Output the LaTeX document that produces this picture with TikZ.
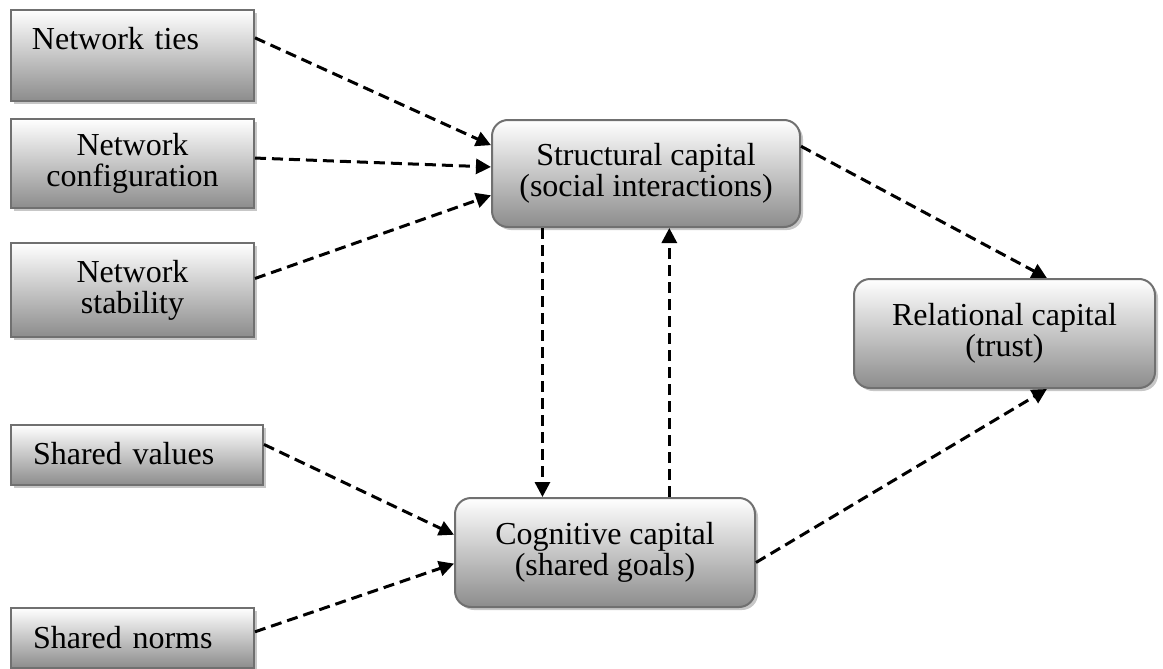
\documentclass[tikz,border=0pt]{standalone}
\usepackage{fontspec}
\setmainfont{Liberation Serif}
\usetikzlibrary{arrows.meta,calc,shadows}

\tikzset{
  boxbase/.style={draw=black!56, line width=1pt,
    top color=white, bottom color=black!45,
    drop shadow={shadow xshift=1.5pt, shadow yshift=-1.5pt, fill=black!22, opacity=1},
    font=\fontsize{16pt}{15.5pt}\selectfont, inner sep=0pt, align=center},
  sqbox/.style={boxbase},
  rndbox/.style={boxbase, rounded corners=8pt},
  flow/.style={line width=1.5pt, dash pattern=on 5.5pt off 3pt,
    -{Triangle[length=7.5pt,width=7.5pt]}}
}

\begin{document}
\begin{tikzpicture}[x=0.5pt, y=-0.5pt]
  \useasboundingbox (0,0) rectangle (1163,669);

  % left-hand input boxes
  \node[sqbox, align=left, inner xsep=10.5pt, text width=100.5pt,
        text height=19.5pt, text depth=26pt] (ties) at (132.5,55.5) {Network ties};
  \node[sqbox, minimum width=121.5pt, minimum height=44.5pt] (config) at (132.5,163.5)
        {Network\\configuration};
  \node[sqbox, minimum width=121.5pt, minimum height=47pt] (stab) at (132.5,290)
        {Network\\stability};
  \node[sqbox, align=left, inner xsep=11pt, text width=104pt,
        text height=19.5pt, text depth=10.5pt] (values) at (137,455) {Shared values};
  \node[sqbox, align=left, inner xsep=11pt, text width=99.5pt,
        text height=20pt, text depth=10pt] (norms) at (132.5,638) {Shared norms};

  % capital dimensions
  \node[rndbox, minimum width=154pt, minimum height=53.5pt] (struct) at (646,173.5)
        {Structural capital\\(social interactions)};
  \node[rndbox, minimum width=150pt, minimum height=54.5pt] (cog) at (605,552.5)
        {Cognitive capital\\(shared goals)};
  \node[rndbox, minimum width=150.5pt, minimum height=54.5pt] (rel) at (1004.5,333.5)
        {Relational capital\\(trust)};

  % inputs to structural capital
  \draw[flow] ($(ties.north east)!0.31!(ties.south east)$) -- ($(struct.north west)!0.24!(struct.south west)$);
  \draw[flow] ($(config.north east)!0.44!(config.south east)$) -- ($(struct.north west)!0.44!(struct.south west)$);
  \draw[flow] ($(stab.north east)!0.38!(stab.south east)$) -- ($(struct.north west)!0.70!(struct.south west)$);

  % inputs to cognitive capital
  \draw[flow] ($(values.north east)!0.33!(values.south east)$) -- ($(cog.north west)!0.34!(cog.south west)$);
  \draw[flow] ($(norms.north east)!0.40!(norms.south east)$) -- ($(cog.north west)!0.60!(cog.south west)$);

  % structural <-> cognitive
  \coordinate (dn) at ($(struct.south west)!0.166!(struct.south east)$);
  \coordinate (up) at ($(cog.north west)!0.713!(cog.north east)$);
  \draw[flow] (dn) -- (dn |- cog.north);
  \draw[flow] (up) -- (up |- struct.south);

  % to relational capital
  \draw[flow] ($(struct.north east)!0.25!(struct.south east)$) -- ($(rel.north west)!0.64!(rel.north east)$);
  \draw[flow] ($(cog.north east)!0.59!(cog.south east)$) -- ($(rel.south west)!0.64!(rel.south east)$);
\end{tikzpicture}
\end{document}
